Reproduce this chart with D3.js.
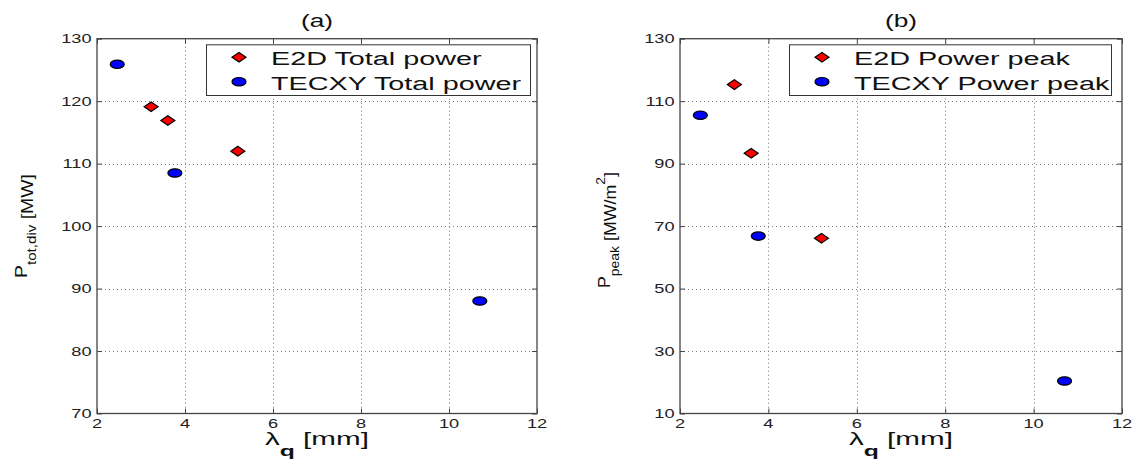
<!DOCTYPE html>
<html><head><meta charset="utf-8">
<script src="https://cdn.jsdelivr.net/npm/d3@7"></script>
<style>body{margin:0;background:#fff}svg{display:block}text{font-family:"Liberation Sans",Arial,sans-serif}</style>
</head><body><svg id="c" width="1134" height="463"></svg>
<script>
// ---- data ----
const xTicks = [2, 4, 6, 8, 10, 12];
const yTicksA = [70, 80, 90, 100, 110, 120, 130];
const yTicksB = [10, 30, 50, 70, 90, 110, 130];
const e2dLambda = [3.23, 3.61, 5.20];
const tecxyLambda = [2.46, 3.77, 10.70];
const e2dTotal = [119.1, 116.9, 112.0];
const tecxyTotal = [125.9, 108.5, 88.0];
const e2dPeak = [115.3, 93.3, 66.1];
const tecxyPeak = [105.5, 66.8, 20.4];
const titles = ["(a)", "(b)"];
const legendA = ["E2D Total power", "TECXY Total power"];
const legendB = ["E2D Power peak", "TECXY Power peak"];

const svg = d3.select("#c");
const TOP = 38.7, BOTTOM = 413.5;

function stretchText(g, x, y, str, size, sx, anchor, opts = {}) {
  return g.append("text")
    .attr("transform", `translate(${x},${y}) scale(${sx},1)`)
    .attr("text-anchor", anchor || "start")
    .attr("font-size", size)
    .attr("fill", opts.fill || "#111")
    .text(str);
}

function panel(cfg) {
  const g = svg.append("g");
  const x = d3.scaleLinear().domain([2, 12]).range([cfg.left, cfg.right]);
  const y = d3.scaleLinear().domain(cfg.yDomain).range([BOTTOM, TOP]);
  const L = cfg.left, R = cfg.right;

  // grid
  const grid = g.append("g").attr("stroke", "#777").attr("stroke-width", 1).attr("stroke-dasharray", "1,3");
  xTicks.slice(1, -1).forEach(v => grid.append("line")
    .attr("x1", Math.round(x(v)) + 0.5).attr("x2", Math.round(x(v)) + 0.5).attr("y1", TOP).attr("y2", BOTTOM));
  cfg.yTicks.slice(1, -1).forEach(v => grid.append("line")
    .attr("x1", L).attr("x2", R).attr("y1", Math.round(y(v)) + 0.5).attr("y2", Math.round(y(v)) + 0.5));

  // axes via d3 axes (inner ticks) on all four sides
  const axStyle = sel => { sel.select(".domain").remove(); sel.selectAll("text").remove(); sel.selectAll("line").attr("stroke", "#444").attr("stroke-width", 1); };
  g.append("g").attr("transform", `translate(0,${BOTTOM})`).call(d3.axisBottom(x).tickValues(xTicks).tickSizeInner(-5).tickSizeOuter(0)).call(axStyle);
  g.append("g").attr("transform", `translate(0,${TOP})`).call(d3.axisTop(x).tickValues(xTicks).tickSizeInner(-5).tickSizeOuter(0)).call(axStyle);
  g.append("g").attr("transform", `translate(${L},0)`).call(d3.axisLeft(y).tickValues(cfg.yTicks).tickSizeInner(-5).tickSizeOuter(0)).call(axStyle);
  g.append("g").attr("transform", `translate(${R},0)`).call(d3.axisRight(y).tickValues(cfg.yTicks).tickSizeInner(-5).tickSizeOuter(0)).call(axStyle);
  g.append("rect").attr("x", L).attr("y", TOP).attr("width", R - L).attr("height", BOTTOM - TOP)
    .attr("fill", "none").attr("stroke", "#444").attr("stroke-width", 1.3);

  // tick labels
  xTicks.forEach(v => stretchText(g, x(v), 428, String(v), 13, 1.4, "middle", { fill: "#222" }));
  cfg.yTicks.forEach(v => stretchText(g, L - 5.5, y(v) + 4.6, String(v), 13, 1.4, "end", { fill: "#222" }));

  // title
  stretchText(g, (L + R) / 2, 27, cfg.title, 18.5, 1.42, "middle", { fill: "#111" });

  // x label
  const xl = g.append("text").attr("font-size", 18).attr("fill", "#111").attr("text-anchor", "start");
  xl.append("tspan").text("λ");
  xl.append("tspan").attr("font-size", 15).attr("font-weight", "bold").attr("dy", 11).text("q");
  xl.append("tspan").attr("dy", -11).text(" [mm]");
  const xw = xl.node().getBBox().width;
  const xsx = 104 / xw;
  xl.attr("transform", `translate(${(L + R) / 2 - 52},444.5) scale(${xsx},1)`);

  // y label (rotated)
  const yl = g.append("text").attr("font-size", 16).attr("fill", "#111").attr("text-anchor", "start");
  cfg.ylab(yl);
  const yw = yl.node().getBBox().width;
  const ys = cfg.ylabLen / yw;
  yl.attr("transform", `translate(${L - 70.5},${cfg.ylabBottom}) rotate(-90) scale(${ys},1)`);

  // markers
  const diamond = (cx, cy, w, h) => `M${cx - w},${cy}L${cx},${cy - h}L${cx + w},${cy}L${cx},${cy + h}Z`;
  g.append("g").selectAll("ellipse").data(tecxyLambda.map((v, i) => [v, cfg.tecxy[i]])).join("ellipse")
    .attr("cx", d => x(d[0])).attr("cy", d => y(d[1])).attr("rx", 7).attr("ry", 4.2)
    .attr("fill", "#0000ff").attr("stroke", "#000").attr("stroke-width", 1.2);
  g.append("g").selectAll("path").data(e2dLambda.map((v, i) => [v, cfg.e2d[i]])).join("path")
    .attr("d", d => diamond(x(d[0]), y(d[1]), 7, 4.8))
    .attr("fill", "#ff0000").attr("stroke", "#000").attr("stroke-width", 1.2);

  // legend
  const lx = L + 109, ly = 44.3;
  const lg = g.append("g");
  lg.append("rect").attr("x", lx + 0.5).attr("y", ly + 0.5).attr("width", cfg.legW).attr("height", 50.7)
    .attr("fill", "#fff").attr("stroke", "#333").attr("stroke-width", 1);
  lg.append("path").attr("d", diamond(lx + 33, 57.3, 7, 4.8)).attr("fill", "#ff0000").attr("stroke", "#000").attr("stroke-width", 1.2);
  lg.append("ellipse").attr("cx", lx + 33).attr("cy", 81.7).attr("rx", 7).attr("ry", 4.2).attr("fill", "#0000ff").attr("stroke", "#000").attr("stroke-width", 1.2);
  stretchText(lg, lx + 65, 65, cfg.legend[0], 18, 1.6, "start", { fill: "#111" });
  stretchText(lg, lx + 65, 90, cfg.legend[1], 18, 1.6, "start", { fill: "#111" });
}

panel({
  left: 97, right: 537, yDomain: [70, 130], yTicks: yTicksA,
  e2d: e2dTotal, tecxy: tecxyTotal, title: titles[0], legend: legendA, legW: 324,
  ylabLen: 104, ylabBottom: 278,
  ylab: t => {
    t.append("tspan").text("P");
    t.append("tspan").attr("font-size", 12.5).attr("dy", 9).text("tot,div");
    t.append("tspan").attr("dy", -3).text(" [MW]");
  }
});
panel({
  left: 680, right: 1122, yDomain: [10, 130], yTicks: yTicksB,
  e2d: e2dPeak, tecxy: tecxyPeak, title: titles[1], legend: legendB, legW: 322,
  ylabLen: 116, ylabBottom: 288,
  ylab: t => {
    t.append("tspan").text("P");
    t.append("tspan").attr("font-size", 12.5).attr("dy", 9).text("peak");
    t.append("tspan").attr("dy", -3).text(" [MW/m");
    t.append("tspan").attr("font-size", 12.5).attr("dy", -11).text("2");
    t.append("tspan").attr("dy", 11).text("]");
  }
});
</script></body></html>
